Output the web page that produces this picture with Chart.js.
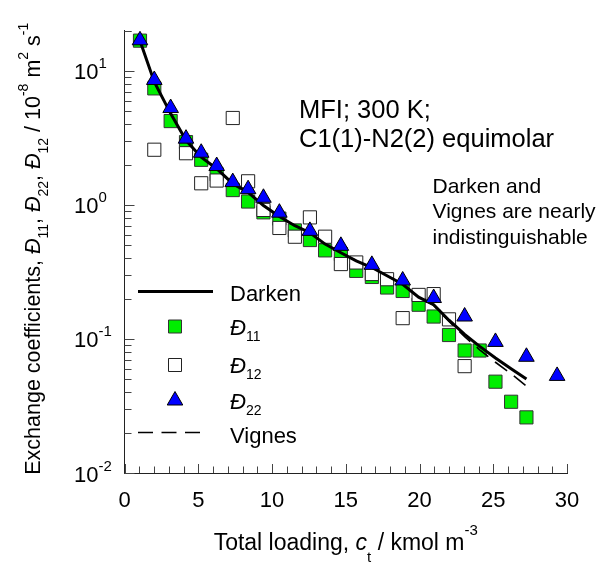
<!DOCTYPE html>
<html lang="en">
<head>
<meta charset="UTF-8">
<title>MFI C1-N2 exchange coefficients</title>
<script src="https://cdn.jsdelivr.net/npm/chart.js"></script>
<style>
  html, body { margin: 0; padding: 0; background: #ffffff; }
  #wrap { width: 600px; height: 571px; }
</style>
</head>
<body>
<div id="wrap"><canvas id="exchangeChart" width="600" height="571"></canvas></div>
<script>
// total loading c_t (kmol m^-3) shared by D11, Darken and Vignes
const loadingSq = [1.05, 2.02, 3.13, 4.17, 5.2, 6.25, 7.34, 8.38, 9.42, 10.5, 11.55, 12.57, 13.6,
                   14.67, 15.71, 16.77, 17.8, 18.86, 19.94, 20.96, 22.0, 23.06, 24.08, 25.15, 26.21, 27.25];
const d11 = [16.8, 7.4, 4.22, 2.94, 2.17, 1.69, 1.29, 1.06, 0.88, 0.79, 0.645, 0.547, 0.458,
             0.43, 0.322, 0.29, 0.242, 0.228, 0.18, 0.147, 0.107, 0.082, 0.082, 0.048, 0.034, 0.026];
const darken = [16.8, 8.27, 4.8, 3.03, 2.27, 1.86, 1.44, 1.24, 0.99, 0.82, 0.70, 0.62, 0.51,
                0.44, 0.383, 0.341, 0.296, 0.256, 0.205, 0.18, 0.138, 0.108, 0.088, 0.072, 0.060, 0.0503];
const vignes = [16.8, 8.27, 4.8, 3.03, 2.27, 1.86, 1.44, 1.24, 0.99, 0.82, 0.70, 0.62, 0.51,
                0.44, 0.383, 0.341, 0.296, 0.256, 0.205, 0.178, 0.135, 0.104, 0.083, 0.067, 0.055, 0.0444];

const loadingD12 = [2.02, 4.17, 5.2, 6.25, 7.34, 8.38, 9.42, 10.5, 11.55, 12.57, 13.6,
                    14.67, 15.71, 16.77, 17.8, 18.86, 19.94, 20.96, 22.0, 23.06];
const d12 = [2.58, 2.43, 1.45, 1.52, 4.45, 1.50, 0.917, 0.673, 0.579, 0.807, 0.579,
             0.362, 0.372, 0.305, 0.279, 0.143, 0.213, 0.216, 0.14, 0.0627];

const loadingD22 = [1.05, 2.02, 3.13, 4.17, 5.2, 6.25, 7.34, 8.38, 9.42, 10.5,
                    12.57, 14.67, 16.77, 18.86, 20.96, 23.06, 25.15, 27.25, 29.33];
const d22 = [16.9, 8.55, 5.28, 3.12, 2.45, 1.95, 1.48, 1.31, 1.13, 0.875,
             0.64, 0.495, 0.357, 0.273, 0.202, 0.147, 0.095, 0.0736, 0.053];

const xTicks = [0, 5, 10, 15, 20, 25, 30];
const yDecades = [-2, -1, 0, 1];

const FONT = '"Liberation Sans", Arial, sans-serif';
const GREEN = '#00ee00';
const BLUE = '#0000ff';

function pts(xs, ys) {
  return xs.map((x, i) => ({ x: x, y: ys[i] }));
}

function fontOf(r, base) {
  return (r.italic ? 'italic ' : '') + (r.size || base) + 'px ' + FONT;
}

// text runs with sub/superscripts, drawn along the baseline
function runsWidth(ctx, runs, base) {
  let w = 0;
  runs.forEach(r => { ctx.font = fontOf(r, base); w += ctx.measureText(r.t).width; });
  return w;
}
function drawRuns(ctx, runs, x, y, base, align) {
  let cx = align === 'center' ? x - runsWidth(ctx, runs, base) / 2 : x;
  ctx.textAlign = 'left';
  ctx.textBaseline = 'alphabetic';
  runs.forEach(r => {
    ctx.font = fontOf(r, base);
    ctx.fillText(r.t, cx, y + (r.dy || 0));
    cx += ctx.measureText(r.t).width;
  });
}

function square(ctx, x, y, side, fill, stroke) {
  ctx.fillStyle = fill;
  ctx.strokeStyle = stroke;
  ctx.lineWidth = 1;
  ctx.beginPath();
  ctx.rect(x - side / 2, y - side / 2, side, side);
  ctx.fill();
  ctx.stroke();
}
function triangle(ctx, x, y, r, fill, stroke) {
  ctx.fillStyle = fill;
  ctx.strokeStyle = stroke;
  ctx.lineWidth = 1;
  ctx.beginPath();
  ctx.moveTo(x, y - r);
  ctx.lineTo(x + r * 0.866, y + r / 2);
  ctx.lineTo(x - r * 0.866, y + r / 2);
  ctx.closePath();
  ctx.fill();
  ctx.stroke();
}

const decorPlugin = {
  id: 'decor',
  afterDraw(chart) {
    const ctx = chart.ctx;
    const xs = chart.scales.x;
    const ys = chart.scales.y;
    const area = chart.chartArea;
    ctx.save();

    // inward tick marks
    ctx.strokeStyle = '#444';
    ctx.lineWidth = 1;
    ctx.beginPath();
    for (let v = 0; v <= 30; v++) {
      const px = Math.round(xs.getPixelForValue(v)) + 0.5;
      const len = v % 5 === 0 ? 9 : 6.5;
      ctx.moveTo(px, area.bottom);
      ctx.lineTo(px, area.bottom - len);
    }
    yDecades.forEach(k => {
      for (let m = 1; m <= 9; m++) {
        const v = m * Math.pow(10, k);
        if (v > ys.max * 1.0001) break;
        const py = Math.round(ys.getPixelForValue(v)) + 0.5;
        const len = m === 1 ? 10 : 7;
        ctx.moveTo(area.left, py);
        ctx.lineTo(area.left + len, py);
      }
    });
    const pTop = Math.round(ys.getPixelForValue(20)) + 0.5;
    ctx.moveTo(area.left, pTop);
    ctx.lineTo(area.left + 7, pTop);
    ctx.stroke();

    ctx.fillStyle = '#000';

    // tick labels
    xTicks.forEach(v => {
      ctx.font = '22px ' + FONT;
      ctx.textAlign = 'center';
      ctx.textBaseline = 'alphabetic';
      ctx.fillText(String(v), xs.getPixelForValue(v), 507);
    });
    yDecades.forEach(k => {
      const py = ys.getPixelForValue(Math.pow(10, k));
      drawRuns(ctx, [{ t: '10' }, { t: String(k), size: 15, dy: -11 }], 74, py + 8.5, 22, 'left');
    });

    // axis titles
    drawRuns(ctx, [
      { t: 'Total loading, ' }, { t: 'c', italic: true }, { t: 't', size: 15, dy: 12 },
      { t: ' / kmol m' }, { t: '-3', size: 15, dy: -15 }
    ], (area.left + area.right) / 2, 550, 23, 'center');

    ctx.save();
    ctx.translate(40, (area.top + area.bottom) / 2 - 3);
    ctx.rotate(-Math.PI / 2);
    drawRuns(ctx, [
      { t: 'Exchange coefficients, ' },
      { t: 'Đ', italic: true }, { t: '11', size: 14, dy: 8 }, { t: ', ' },
      { t: 'Đ', italic: true }, { t: '22', size: 14, dy: 8 }, { t: ', ' },
      { t: 'Đ', italic: true }, { t: '12', size: 14, dy: 8 }, { t: ' / 10' },
      { t: '-8', size: 14, dy: -12 }, { t: ' m' }, { t: '2', size: 14, dy: -12 },
      { t: ' s' }, { t: '-1', size: 14, dy: -12 }
    ], 0, 0, 21.5, 'center');
    ctx.restore();

    // notes
    ctx.fillStyle = '#000';
    drawRuns(ctx, [{ t: 'MFI; 300 K;' }], 299, 118, 25.5, 'left');
    drawRuns(ctx, [{ t: 'C1(1)-N2(2) equimolar' }], 299, 146.5, 25.5, 'left');
    drawRuns(ctx, [{ t: 'Darken and' }], 432.5, 192.5, 21, 'left');
    drawRuns(ctx, [{ t: 'Vignes are nearly' }], 432.5, 218, 21, 'left');
    drawRuns(ctx, [{ t: 'indistinguishable' }], 432.5, 243.5, 21, 'left');

    // legend
    ctx.strokeStyle = '#000';
    ctx.lineWidth = 3;
    ctx.beginPath();
    ctx.moveTo(138, 291.5);
    ctx.lineTo(213, 291.5);
    ctx.stroke();
    square(ctx, 175, 326.5, 13, GREEN, '#333');
    square(ctx, 175, 365, 13, '#ffffff', '#222');
    triangle(ctx, 175, 400.5, 9, BLUE, '#000');
    ctx.strokeStyle = '#000';
    ctx.lineWidth = 1.6;
    ctx.setLineDash([15, 8.5]);
    ctx.beginPath();
    ctx.moveTo(138, 432.5);
    ctx.lineTo(203, 432.5);
    ctx.stroke();
    ctx.setLineDash([]);

    ctx.fillStyle = '#000';
    drawRuns(ctx, [{ t: 'Darken' }], 230, 300.5, 22, 'left');
    drawRuns(ctx, [{ t: 'Đ', italic: true }, { t: '11', size: 14, dy: 6 }], 230, 334.5, 22, 'left');
    drawRuns(ctx, [{ t: 'Đ', italic: true }, { t: '12', size: 14, dy: 6 }], 230, 373, 22, 'left');
    drawRuns(ctx, [{ t: 'Đ', italic: true }, { t: '22', size: 14, dy: 6 }], 230, 409, 22, 'left');
    drawRuns(ctx, [{ t: 'Vignes' }], 230, 443, 22, 'left');

    ctx.restore();
  }
};

const chart = new Chart(document.getElementById('exchangeChart'), {
  type: 'scatter',
  data: {
    datasets: [
      {
        label: 'Đ11',
        data: pts(loadingSq, d11),
        pointStyle: 'rect',
        pointRadius: 9.3,
        backgroundColor: GREEN,
        borderColor: '#333',
        borderWidth: 1,
        clip: false,
        order: 5
      },
      {
        label: 'Đ12',
        data: pts(loadingD12, d12),
        pointStyle: 'rect',
        pointRadius: 9.3,
        backgroundColor: '#ffffff',
        borderColor: '#222',
        borderWidth: 1,
        clip: false,
        order: 4
      },
      {
        label: 'Darken',
        data: pts(loadingSq, darken),
        showLine: true,
        pointRadius: 0,
        borderColor: '#000',
        borderWidth: 3,
        tension: 0,
        clip: false,
        order: 3
      },
      {
        label: 'Vignes',
        data: pts(loadingSq, vignes),
        showLine: true,
        pointRadius: 0,
        borderColor: '#000',
        borderWidth: 1.6,
        borderDash: [15, 8.5],
        tension: 0,
        clip: false,
        order: 2
      },
      {
        label: 'Đ22',
        data: pts(loadingD22, d22),
        pointStyle: 'triangle',
        pointRadius: 9,
        backgroundColor: BLUE,
        borderColor: '#000',
        borderWidth: 1,
        clip: false,
        order: 1
      }
    ]
  },
  options: {
    responsive: false,
    animation: false,
    events: [],
    layout: { padding: { left: 124.5, right: 33, top: 30.5, bottom: 98 } },
    plugins: { legend: { display: false }, tooltip: { enabled: false } },
    scales: {
      x: {
        type: 'linear',
        min: 0,
        max: 30,
        ticks: { display: false },
        grid: { display: false, drawTicks: false },
        border: { display: true, color: '#222', width: 1 }
      },
      y: {
        type: 'logarithmic',
        min: 0.01,
        max: 20,
        ticks: { display: false },
        grid: { display: false, drawTicks: false },
        border: { display: true, color: '#222', width: 1 }
      }
    }
  },
  plugins: [decorPlugin]
});
</script>
</body>
</html>
